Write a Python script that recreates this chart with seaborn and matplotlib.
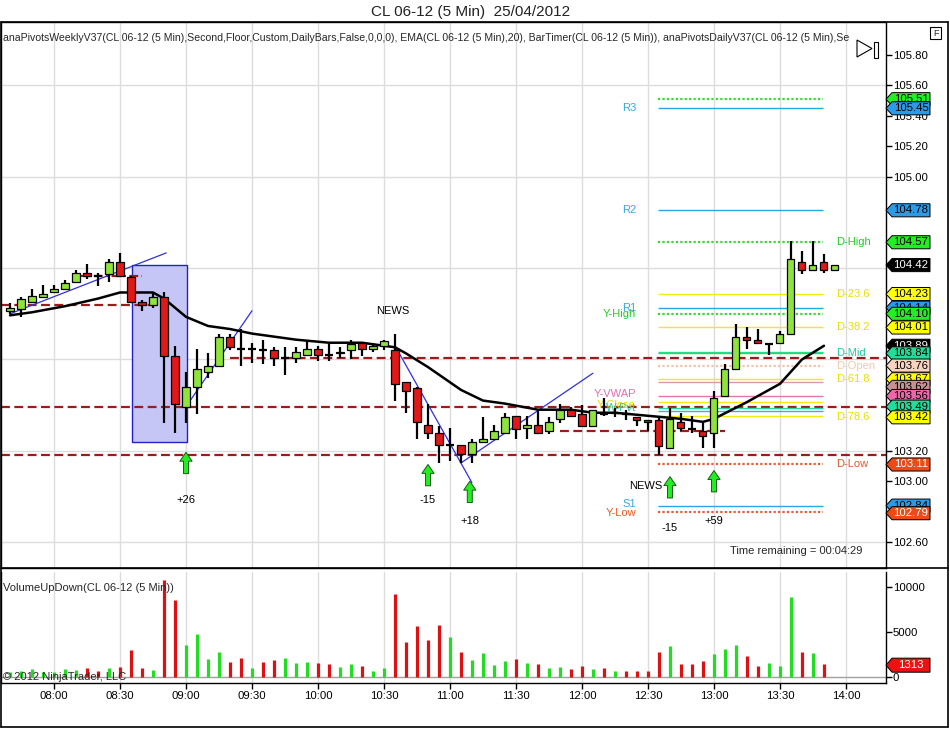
import matplotlib
matplotlib.use('Agg')
import matplotlib.pyplot as plt
from matplotlib.patches import Polygon, Rectangle
from matplotlib.lines import Line2D
import pandas as pd
import seaborn as sns

sns.set_theme(style='white')
plt.rcParams['font.family'] = ['Liberation Sans', 'DejaVu Sans']

# 5 minute bars, 07:40 .. 13:55
bar_times = pd.date_range('2012-04-25 07:40', periods=76, freq='5min')

opens = [104.12, 104.13, 104.18, 104.21, 104.24, 104.26, 104.31, 104.37, 104.35, 104.36,
         104.44, 104.34, 104.18, 104.16, 104.21, 103.82, 103.49, 103.62, 103.72, 103.76,
         103.95, 103.87, 103.87, 103.86, 103.86, 103.81, 103.81, 103.83, 103.87, 103.83,
         103.84, 103.86, 103.91, 103.87, 103.89, 103.86, 103.65, 103.61, 103.37, 103.32,
         103.24, 103.24, 103.18, 103.26, 103.28, 103.32, 103.43, 103.35, 103.37, 103.33,
         103.41, 103.47, 103.44, 103.36, 103.45, 103.45, 103.44, 103.42, 103.40, 103.40,
         103.22, 103.39, 103.34, 103.33, 103.32, 103.56, 103.74, 103.95, 103.93, 103.90,
         103.91, 103.97, 104.44, 104.39, 104.44, 104.39]
highs = [104.17, 104.21, 104.26, 104.29, 104.29, 104.32, 104.39, 104.43, 104.37, 104.46,
         104.50, 104.35, 104.19, 104.24, 104.24, 103.89, 103.72, 103.87, 103.84, 103.97,
         103.97, 104.00, 103.91, 103.93, 103.88, 103.88, 103.88, 103.92, 103.89, 103.90,
         103.88, 103.93, 103.91, 103.91, 103.93, 103.97, 103.65, 103.62, 103.51, 103.36,
         103.35, 103.24, 103.28, 103.42, 103.37, 103.45, 103.43, 103.43, 103.47, 103.42,
         103.51, 103.49, 103.50, 103.47, 103.55, 103.48, 103.47, 103.42, 103.40, 103.42,
         103.48, 103.45, 103.43, 103.38, 103.59, 103.77, 104.03, 104.01, 104.00, 103.91,
         103.99, 104.58, 104.51, 104.58, 104.49, 104.42]
lows = [104.10, 104.08, 104.18, 104.21, 104.24, 104.26, 104.30, 104.33, 104.28, 104.31,
        104.34, 104.17, 104.12, 104.14, 103.38, 103.32, 103.38, 103.44, 103.68, 103.75,
        103.86, 103.76, 103.78, 103.77, 103.76, 103.70, 103.78, 103.83, 103.79, 103.79,
        103.81, 103.80, 103.82, 103.85, 103.86, 103.53, 103.45, 103.28, 103.28, 103.12,
        103.13, 103.12, 103.12, 103.25, 103.28, 103.32, 103.28, 103.28, 103.31, 103.31,
        103.38, 103.42, 103.36, 103.36, 103.43, 103.42, 103.40, 103.36, 103.33, 103.17,
        103.22, 103.33, 103.32, 103.22, 103.22, 103.56, 103.74, 103.87, 103.91, 103.83,
        103.91, 103.97, 104.36, 104.39, 104.37, 104.39]
closes = [104.14, 104.20, 104.22, 104.23, 104.26, 104.30, 104.37, 104.35, 104.35, 104.44,
          104.35, 104.18, 104.16, 104.21, 103.82, 103.51, 103.62, 103.74, 103.76, 103.95,
          103.88, 103.87, 103.87, 103.86, 103.81, 103.81, 103.85, 103.87, 103.83, 103.83,
          103.85, 103.90, 103.87, 103.89, 103.92, 103.64, 103.59, 103.39, 103.32, 103.24,
          103.24, 103.18, 103.26, 103.28, 103.33, 103.42, 103.34, 103.37, 103.32, 103.39,
          103.47, 103.43, 103.36, 103.47, 103.44, 103.45, 103.44, 103.40, 103.39, 103.23,
          103.41, 103.35, 103.34, 103.30, 103.55, 103.74, 103.95, 103.93, 103.91, 103.90,
          103.97, 104.46, 104.39, 104.42, 104.39, 104.42]

volumes = [500, 700, 900, 500, 600, 900, 800, 1000, 700, 1000,
           1100, 3000, 1000, 800, 10800, 8550, 3550, 4780, 2000, 2780,
           1670, 2070, 1000, 1670, 1850, 2110, 1560, 1670, 1560, 1410,
           1080, 1410, 1190, 700, 1000, 9220, 3930, 5670, 4070, 5740,
           4480, 2780, 1900, 2700, 1300, 1780, 1960, 1560, 1440, 1040,
           1150, 930, 1220, 930, 1040, 700, 700, 700, 700, 2780,
           3410, 1410, 1410, 1780, 2520, 3060, 3610, 2300, 1220, 1560,
           1220, 8890, 2780, 2670, 1410]
volume_dir = 'gggggggrrg' 'rrrgrrgggg' 'rrgrrgggrr' 'ggrggrrrrr' 'grggggrgrg' \
             'grrgrgrrrr' 'grrrgggrrg' 'ggrgr'
last_volume = 1313

# EMA(20)
ema_times = ['07:40', '07:50', '08:05', '08:20', '08:30', '08:40', '08:45', '08:50', '08:55',
             '09:00', '09:10', '09:20', '09:30', '09:35', '09:50', '10:05', '10:20', '10:35',
             '10:40', '10:50', '10:55', '11:05', '11:15', '11:25', '11:40', '11:55', '12:05',
             '12:15', '12:30', '12:45', '12:55', '13:00', '13:15', '13:30', '13:40', '13:50']
ema_values = [104.09, 104.11, 104.15, 104.20, 104.24, 104.24, 104.24, 104.20, 104.14,
              104.08, 104.02, 104.00, 103.97, 103.96, 103.93, 103.91, 103.91, 103.88,
              103.84, 103.75, 103.70, 103.60, 103.53, 103.51, 103.47, 103.47, 103.45,
              103.45, 103.43, 103.41, 103.39, 103.41, 103.52, 103.64, 103.80, 103.89]

# weekly pivot levels (dark red): price, start, end (None = full width)
weekly_levels = [104.16, 104.35, 103.81, 103.49, 103.17, 103.33]
weekly_start = [None, '08:10', '09:20', None, None, '11:50']
weekly_end = ['08:50', '08:40', None, None, None, '13:05']
weekly_dashdot = [False, True, False, False, False, False]

# daily pivot levels
daily_levels = [105.51, 105.45, 104.78, 104.57, 104.23, 104.14, 104.10, 104.01, 103.85, 103.84,
                103.76, 103.67, 103.65, 103.56, 103.52, 103.48, 103.46, 103.43, 103.11, 102.84,
                102.80]
daily_colors = ['#33dd33', '#2aa6e6', '#2aa6e6', '#33dd33', '#f2ea10', '#2aa6e6', '#33dd33',
                '#f2ea10', '#22dda0', '#33dd33', '#f4c2a8', '#f2ea10', '#d79aa8', '#e873b0',
                '#f2ea10', '#22dda0', '#2ab6e6', '#f2ea10', '#ee5a2a', '#2aa6e6', '#ee5a2a']
daily_dotted = [True, False, False, True, False, False, True, False, False, False,
                True, False, False, False, False, False, False, False, True, False, True]
daily_start, daily_end = '12:35', '13:50'

left_labels = ['R3', 'R2', 'R1', 'Y-High', 'Y-VWAP', 'Y-Close', 'W-Pvt', 'S1', 'Y-Low']
left_label_values = [105.45, 104.78, 104.14, 104.10, 103.57, 103.50, 103.48, 102.85, 102.79]
left_label_colors = ['#33aadd', '#33aadd', '#33aadd', '#22cc22', '#e070b0', '#e8e000',
                     '#22ccaa', '#33aadd', '#ee5a2a']
right_labels = ['D-High', 'D-23.6', 'D-38.2', 'D-Mid', 'D-Open', 'D-61.8', 'D-78.6', 'D-Low']
right_label_values = [104.57, 104.23, 104.01, 103.84, 103.76, 103.67, 103.42, 103.11]
right_label_colors = ['#22cc22', '#e8e000', '#e8e000', '#22cc99', '#f0c8b0', '#e8e000',
                      '#e8e000', '#e05a2a']

# price markers on the right axis
tag_values = [105.51, 105.45, 104.78, 104.57, 104.42, 104.23, 104.14, 104.10, 104.01, 103.89,
              103.84, 103.76, 103.67, 103.62, 103.56, 103.49, 103.42, 103.11, 102.84, 102.79]
tag_colors = ['#22ee22', '#2b9be8', '#2b9be8', '#22ee22', '#000000', '#ffff00', '#2b9be8',
              '#22ee22', '#ffff00', '#000000', '#22dd99', '#f8d4c0', '#ffff00', '#c89090',
              '#ee66aa', '#22dd99', '#ffff00', '#ee4a14', '#2b9be8', '#ee4a14']
tag_text = ['black', 'black', 'black', 'black', 'white', 'black', 'black', 'black', 'black',
            'white', 'black', 'black', 'black', 'black', 'black', 'black', 'black', 'white',
            'black', 'white']

# drawings
trend_start = ['07:40', '09:00', '10:35', '11:05']
trend_end = ['08:51', '09:30', '11:10', '12:05']
trend_p0 = [104.10, 103.49, 103.89, 103.12]
trend_p1 = [104.50, 104.12, 102.99, 103.71]
box_times = ['08:35', '09:00']
box_prices = [103.26, 104.42]

arrow_times = ['09:00', '10:50', '11:09', '12:40', '13:00']
arrow_tips = [103.19, 103.11, 103.00, 103.03, 103.07]
arrow_labels = ['+26', '-15', '+18', '-15', '+59']
arrow_label_values = [102.88, 102.88, 102.74, 102.69, 102.74]
news_times = ['10:34', '12:29']
news_values = [104.12, 102.97]


def minutes(s):
    h, m = s.split(':')
    return int(h) * 60 + int(m)


t = [d.hour * 60 + d.minute for d in bar_times]

W, H = 950, 729
fig = plt.figure(figsize=(W / 100, H / 100), dpi=100)
fig.patch.set_facecolor('white')


def fx(px):
    return px / W


def fy(py):
    return 1 - py / H


ax = fig.add_axes([fx(1), fy(568), fx(885), 546 / H])
axv = fig.add_axes([fx(1), fy(683), fx(885), 111 / H], sharex=ax)
for a in (ax, axv):
    a.set_facecolor('white')
    for s in a.spines.values():
        s.set_color('black')
        s.set_linewidth(1)
axv.spines['top'].set_visible(False)

xmin, xmax = 455.9, 858.2
ax.set_xlim(xmin, xmax)
ax.set_ylim(102.43, 106.017)
axv.set_ylim(-667, 11667)

half_hours = list(range(480, 841, 30))
for a in (ax, axv):
    for x in half_hours:
        a.axvline(x, color='#dcdcdc', lw=1, zorder=0)
for p in [105.6, 105.0, 104.4, 103.8, 103.2, 102.6]:
    ax.axhline(p, color='#dcdcdc', lw=1, zorder=0)

# selection box
ax.add_patch(Rectangle((minutes(box_times[0]) + 0.5, box_prices[0]),
                       minutes(box_times[1]) - minutes(box_times[0]),
                       box_prices[1] - box_prices[0],
                       fc='#c6c6f6', ec='#2020cc', lw=1, zorder=1))

# weekly levels
for p, s, e, dd in zip(weekly_levels, weekly_start, weekly_end, weekly_dashdot):
    x0 = xmin if s is None else minutes(s)
    x1 = xmax if e is None else minutes(e)
    ls = (0, (4, 1.5, 1, 1.5)) if dd else (0, (4, 2))
    ax.hlines(p, x0, x1, colors='#9a1c1c', lw=1.6, linestyles=[ls], zorder=2)

# daily levels
d0, d1 = minutes(daily_start) - 0.5, minutes(daily_end) - 0.5
for p, c, dot in zip(daily_levels, daily_colors, daily_dotted):
    ax.hlines(p, d0, d1, colors=c, lw=1.6 if dot else 1.0,
              linestyles=[(0, (1, 1))] if dot else ['solid'], zorder=2)

for lab, p, c in zip(left_labels, left_label_values, left_label_colors):
    ax.text(minutes('12:25') - 0.5, p, lab, color=c, fontsize=8, ha='right', va='center', zorder=3)
for lab, p, c in zip(right_labels, right_label_values, right_label_colors):
    ax.text(minutes('13:55') + 0.5, p, lab, color=c, fontsize=8, ha='left', va='center',
            zorder=3, clip_on=True)

# trend lines
for s, e, p0, p1 in zip(trend_start, trend_end, trend_p0, trend_p1):
    ax.plot([minutes(s), minutes(e)], [p0, p1], color='#3030e0', lw=0.9, zorder=3)

# EMA
sns.lineplot(x=[minutes(s) for s in ema_times], y=ema_values, ax=ax, color='black',
             lw=1.8, zorder=3)

# candles
ax.vlines(t, lows, highs, colors='black', lw=1.6, zorder=4)
for ti, o, c in zip(t, opens, closes):
    if o == c:
        ax.hlines(o, ti - 1.8, ti + 1.8, colors='black', lw=1.6, zorder=5)
    else:
        ax.bar(ti, abs(c - o), bottom=min(o, c), width=3.2,
               color='#8fe33d' if c > o else '#e01818',
               edgecolor='black', linewidth=0.9, zorder=5)

# arrows and labels
for s, tip, lab, lv in zip(arrow_times, arrow_tips, arrow_labels, arrow_label_values):
    x = minutes(s)
    ax.annotate('', xy=(x, tip), xytext=(x, tip - 0.14),
                arrowprops=dict(arrowstyle='simple,head_width=1.1,head_length=0.8,tail_width=0.45',
                                fc='#22ee22', ec='#1a5a1a', lw=0.7, mutation_scale=8,
                                shrinkA=0, shrinkB=0), zorder=6)
    ax.text(x, lv, lab, fontsize=8, ha='center', va='center', color='black')
for s, p in zip(news_times, news_values):
    ax.text(minutes(s), p, 'NEWS', fontsize=8, ha='center', va='center', color='black')

ax.text(0.898, 0.031, 'Time remaining = 00:04:29', transform=ax.transAxes, fontsize=8,
        ha='center', va='center')
ax.text(0.002, 0.971,
        'anaPivotsWeeklyV37(CL 06-12 (5 Min),Second,Floor,Custom,DailyBars,False,0,0,0), '
        'EMA(CL 06-12 (5 Min),20), BarTimer(CL 06-12 (5 Min)), '
        'anaPivotsDailyV37(CL 06-12 (5 Min),Se',
        transform=ax.transAxes, fontsize=7.6, ha='left', va='center', clip_on=True)

# price axis
price_ticks = [105.8, 105.6, 105.4, 105.2, 105.0, 103.2, 103.0, 102.6]
ax.yaxis.tick_right()
ax.set_yticks(price_ticks)
ax.set_yticklabels([f'{p:.2f}' for p in price_ticks])
ax.tick_params(axis='y', direction='out', length=4, width=1, labelsize=8.2, pad=1,
               colors='black', right=True, left=False)
ax.tick_params(axis='x', bottom=False, labelbottom=False)


def tag(a, value, fc, tc, text, half_h, z):
    x0, x1, x2 = 1.0, 892 / 885 - 1 / 885, 930 / 885 - 1 / 885
    a.add_patch(Polygon([(x0, value), (x1, value + half_h), (x2, value + half_h),
                         (x2, value - half_h), (x1, value - half_h)], closed=True,
                        transform=a.get_yaxis_transform(), fc=fc, ec='black', lw=0.7,
                        clip_on=False, zorder=z))
    a.text((x1 + x2) / 2, value, text, transform=a.get_yaxis_transform(), fontsize=8.2,
           color=tc, ha='center', va='center', clip_on=False, zorder=z + 0.5)


for i, (p, c, tc) in enumerate(zip(tag_values, tag_colors, tag_text)):
    tag(ax, p, c, tc, f'{p:.2f}', 0.043, 10 + i)

# volume panel
vol_t = t[:len(volumes)]
axv.axhline(0, color='#a0a0a0', lw=1, zorder=1)
axv.vlines(vol_t, 0, volumes, colors=['#22dd22' if d == 'g' else '#dd1111' for d in volume_dir],
           lw=2.3, zorder=2)
axv.yaxis.tick_right()
axv.set_yticks([0, 5000, 10000])
axv.set_yticklabels(['0', '5000', '10000'])
axv.tick_params(axis='y', direction='out', length=4, width=1, labelsize=8.2, pad=1,
                right=True, left=False, colors='black')
axv.set_xticks(half_hours)
axv.set_xticklabels([f'{m // 60:02d}:{m % 60:02d}' for m in half_hours])
axv.tick_params(axis='x', direction='out', length=4, width=1, labelsize=8.2, pad=2,
                bottom=True, colors='black')
tag(axv, last_volume, '#ee1111', 'white', str(last_volume), 780, 10)
axv.text(0.002, 0.86, 'VolumeUpDown(CL 06-12 (5 Min))', transform=axv.transAxes,
         fontsize=8, ha='left', va='center')
axv.text(0.002, 0.05, '\u00a9 2012 NinjaTrader, LLC', transform=axv.transAxes,
         fontsize=8, ha='left', va='center')
ax.set_xlabel('')
ax.set_ylabel('')
axv.set_xlabel('')
axv.set_ylabel('')

# frame and title
for (x0, y0, x1, y1) in [(1, 22, 948, 22), (1, 22, 1, 727), (948, 22, 948, 727),
                         (1, 727, 948, 727), (1, 568, 948, 568)]:
    fig.add_artist(Line2D([fx(x0), fx(x1)], [fy(y0), fy(y1)], color='black', lw=1.2))
fig.text(fx(471), fy(12), 'CL 06-12 (5 Min)  25/04/2012', fontsize=11, ha='center',
         va='center', color='#222222')
fig.add_artist(Rectangle((fx(930), fy(39)), fx(11), 12 / H, fill=False, ec='black', lw=0.8))
fig.text(fx(935.5), fy(33), 'F', fontsize=6.5, ha='center', va='center')
fig.add_artist(Polygon([(fx(857), fy(40)), (fx(857), fy(57)), (fx(872), fy(48.5))],
                       closed=True, fill=False, ec='black', lw=0.8))
fig.add_artist(Rectangle((fx(874), fy(58)), fx(4), 16 / H, fill=False, ec='black', lw=0.8))

fig.savefig('out.png', dpi=100)
